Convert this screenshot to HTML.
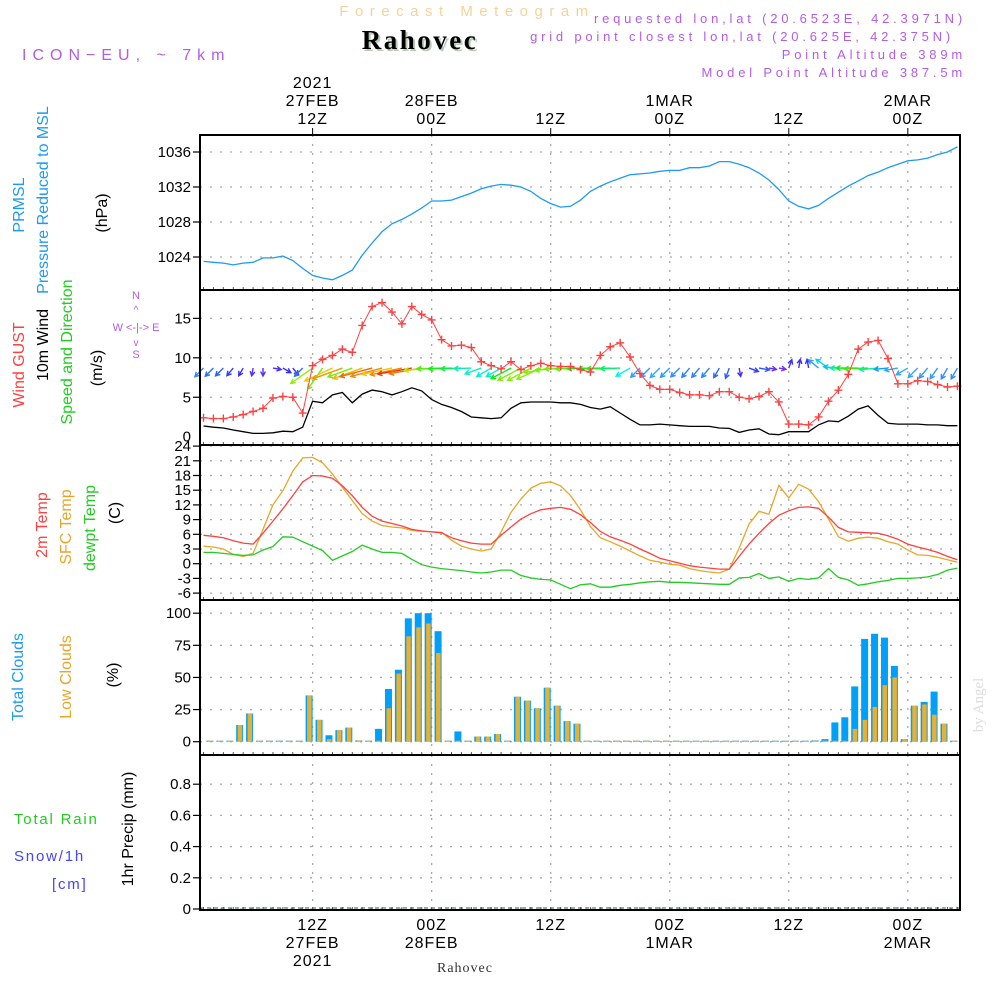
<!DOCTYPE html>
<html><head><meta charset="utf-8"><title>Forecast Meteogram - Rahovec</title>
<style>
html,body{margin:0;padding:0;background:#fff;}
svg{display:block;font-family:"Liberation Sans",sans-serif;}
</style></head>
<body>
<svg id="chart" width="1000" height="1000" viewBox="0 0 1000 1000" xmlns="http://www.w3.org/2000/svg">
<rect x="0" y="0" width="1000" height="1000" fill="#fff"/>
<text x="467" y="16" text-anchor="middle" font-size="15" fill="#f3d39a" letter-spacing="6.5">Forecast Meteogram</text>
<text x="422" y="51" text-anchor="middle" font-family="Liberation Serif, serif" font-weight="bold" font-size="27" fill="#b9cbb9" letter-spacing="2.5">Rahovec</text>
<text x="420" y="49" text-anchor="middle" font-family="Liberation Serif, serif" font-weight="bold" font-size="27" fill="#000" letter-spacing="2.5">Rahovec</text>
<text x="22" y="60" font-size="16" fill="#b35ce8" letter-spacing="6">ICON−EU, ~ 7km</text>
<g font-size="13" fill="#b35ce8" text-anchor="end" letter-spacing="3.8">
<text x="966" y="23">requested lon,lat (20.6523E, 42.3971N)</text>
<text x="954" y="41">grid point closest lon,lat (20.625E, 42.375N)</text>
<text x="966" y="59">Point Altitude 389m</text>
<text x="966" y="77">Model Point Altitude 387.5m</text>
</g>
<g id="labels" font-size="15"></g>
<g id="grid"></g>
<g id="marks"></g>
<g id="frames"></g>
<text transform="translate(983,705) rotate(-90)" text-anchor="middle" font-family="Liberation Serif, serif" font-size="15" fill="#ddd">by Angel</text>
<text x="465" y="972" text-anchor="middle" font-family="Liberation Serif, serif" font-size="14" fill="#333" letter-spacing="1">Rahovec</text>
</svg>
<script>
// ---- Data (hourly, k=0 -> 27FEB 01Z) ----
const pressure = [1023.5,1023.4,1023.3,1023.1,1023.3,1023.4,1023.9,1023.9,1024.1,1023.6,1022.7,1021.9,1021.6,1021.4,1021.9,1022.5,1024.2,1025.6,1026.9,1027.8,1028.3,1028.9,1029.6,1030.4,1030.4,1030.5,1030.9,1031.3,1031.8,1032.1,1032.3,1032.2,1032.0,1031.5,1030.7,1030.1,1029.7,1029.8,1030.5,1031.5,1032.1,1032.6,1033.0,1033.4,1033.5,1033.6,1033.8,1033.9,1033.9,1034.2,1034.2,1034.4,1034.9,1034.9,1034.6,1034.2,1033.6,1032.8,1031.7,1030.4,1029.8,1029.5,1029.9,1030.7,1031.4,1032.1,1032.7,1033.3,1033.7,1034.2,1034.6,1035.0,1035.1,1035.3,1035.7,1036.0,1036.6];
const windGust = [2.4,2.3,2.3,2.5,2.8,3.2,3.6,4.9,5.1,5.0,3.0,9.0,9.8,10.3,11.1,10.7,14.1,16.5,17.0,15.8,14.3,16.5,15.5,14.8,12.3,11.5,11.6,11.3,9.5,9.0,8.6,9.5,8.5,9.0,9.3,9.0,8.9,8.9,8.5,8.2,10.3,11.4,11.9,10.1,8.0,6.5,6.0,6.0,5.6,5.3,5.3,5.2,5.7,5.7,5.0,4.8,5.1,5.7,4.4,1.6,1.6,1.5,2.5,4.5,5.9,7.9,11.1,12.0,12.2,9.9,6.7,6.7,7.1,7.0,6.6,6.3,6.4];
const windSpeed = [1.35,1.2,1.1,0.85,0.63,0.42,0.42,0.5,0.7,0.63,1.2,4.5,4.3,5.3,5.6,4.3,5.4,5.9,5.7,5.3,5.7,6.2,5.8,4.7,4.1,3.7,3.2,2.5,2.4,2.3,2.4,3.6,4.3,4.4,4.4,4.4,4.3,4.3,4.1,3.7,3.5,3.8,3.0,2.2,1.5,1.5,1.6,1.5,1.4,1.3,1.3,1.3,1.1,1.05,0.55,0.85,1.0,0.34,0.25,0.63,0.63,0.63,1.5,2.0,1.9,2.6,3.5,3.9,2.7,1.7,1.6,1.6,1.6,1.5,1.5,1.4,1.4];
const windDir = [45,45,45,40,30,10,0,280,300,320,45,55,35,65,70,70,70,75,75,78,78,80,80,85,88,88,88,88,70,60,60,62,62,62,65,80,85,88,88,88,88,88,88,60,45,45,45,45,45,40,40,40,30,20,350,290,280,280,280,200,190,170,130,125,95,90,90,88,85,85,80,60,45,40,35,30,30];
const temp2m = [5.8,5.6,5.3,4.7,4.2,4.0,6.2,8.7,11.2,13.9,16.7,18.0,17.9,17.4,15.9,13.9,11.5,9.7,8.7,8.2,7.7,7.0,6.7,6.5,6.3,5.3,4.7,4.2,4.0,4.0,5.8,7.5,9.1,10.2,11.0,11.3,11.5,11.1,10.0,8.4,6.6,5.5,4.8,4.0,3.0,2.1,1.1,0.6,0.1,-0.4,-0.7,-0.9,-1.1,-1.1,1.5,4.0,6.2,8.2,9.9,10.8,11.5,11.6,11.3,9.5,7.4,6.5,6.4,6.3,6.2,5.7,5.0,4.0,3.4,2.9,2.3,1.5,0.8];
const tempSfc = [3.6,3.4,3.0,1.9,1.5,2.1,7.0,12.0,14.9,18.9,21.6,21.7,20.6,18.3,15.6,12.9,10.2,8.7,7.8,7.5,7.3,6.8,6.6,6.5,6.4,4.8,3.6,3.0,2.6,3.0,6.5,10.5,13.2,15.4,16.4,16.7,15.9,13.9,11.0,7.6,5.3,4.5,3.6,2.6,1.6,0.7,0.3,-0.1,-0.3,-1.0,-1.4,-1.7,-1.9,-1.1,3.2,8.1,10.7,10.1,16.0,13.4,16.2,15.2,12.7,9.1,5.5,4.6,5.2,5.4,5.2,4.5,4.0,2.8,1.8,1.7,1.3,0.8,0.3];
const dewpt = [2.3,2.3,2.1,1.9,1.7,1.8,2.8,3.5,5.5,5.4,4.5,3.6,2.7,0.7,1.6,2.5,3.8,3.0,2.3,2.3,2.1,0.9,-0.2,-0.7,-1.0,-1.2,-1.4,-1.7,-1.9,-1.7,-1.3,-1.3,-2.4,-2.9,-3.2,-3.3,-4.2,-5.1,-4.3,-4.1,-4.8,-4.8,-4.4,-4.2,-3.9,-3.7,-3.6,-3.8,-3.8,-3.9,-4.0,-4.1,-4.2,-4.2,-2.9,-2.8,-2.0,-3.0,-2.7,-3.6,-3.0,-3.2,-2.9,-1.0,-2.8,-3.3,-4.4,-4.1,-3.7,-3.4,-3.0,-3.0,-2.9,-2.7,-2.2,-1.3,-0.9];
// clouds start at k=1 (27FEB 02Z)
const totalClouds = [0,0,0,13,22,0,0,0,0,0,36,17,5,9,11,1,0,10,41,56,96,100,100,86,0,8,0,4,4,6,0,35,32,26,42,28,16,14,0,0,0,0,0,0,0,0,0,0,0,0,0,0,0,0,0,0,0,0,0,0,0,1,2,15,19,43,80,84,81,59,2,28,31,39,14,0];
const lowClouds = [0,0,0,13,22,0,0,0,0,0,36,17,2,9,11,1,0,0,26,53,82,89,92,69,0,0,0,4,4,6,0,35,32,26,42,28,16,14,0,0,0,0,0,0,0,0,0,0,0,0,0,0,0,0,0,0,0,0,0,0,0,0,0,0,0,10,17,27,44,50,2,28,29,21,14,0];
const precip = new Array(76).fill(0);
const pressTicks = [1024,1028,1032,1036];
const windTicks = [0,5,10,15];
const tempTicks = [-6,-3,0,3,6,9,12,15,18,21,24];
const cloudTicks = [0,25,50,75,100];
const precipTicks = [0,0.2,0.4,0.6,0.8];
const topTimeLabels = [["2021","27FEB","12Z"],["28FEB","00Z"],["12Z"],["1MAR","00Z"],["12Z"],["2MAR","00Z"]];
const bottomTimeLabels = [["12Z","27FEB","2021"],["00Z","28FEB"],["12Z"],["00Z","1MAR"],["12Z"],["00Z","2MAR"]];
const labelHours = [11,23,35,47,59,71];

// ---- Axis functions ----
const NS='http://www.w3.org/2000/svg';
const X0=200,X1=960;
const xH = k => 203.5 + 9.92*k;
const yP = p => 152 + (1036-p)*8.75;
const yW = v => 436.7 - v*7.89;
const yT = t => 563.7 - t*4.9;
const yC = c => 741.7 - c*1.285;
const yR = r => 909 - r*156;
const panels=[[135,290],[290,445],[445,600],[600,755],[755,910]];

function mk(tag,attrs,parent){const e=document.createElementNS(NS,tag);for(const a in attrs)e.setAttribute(a,attrs[a]);parent.appendChild(e);return e;}
const G=document.getElementById('grid'),M=document.getElementById('marks'),F=document.getElementById('frames'),L=document.getElementById('labels');

function hgrid(ticks,yf,name,fmt){
  ticks.forEach(t=>{
    const y=yf(t);
    const l=mk('line',{x1:X0,x2:X1,y1:y,y2:y,stroke:'#aaa','stroke-width':1.3,'stroke-dasharray':'2,8'},G);
    
    
    mk('line',{x1:X0-7,x2:X0,y1:y,y2:y,stroke:'#000','stroke-width':1.2},F);
    const tx=mk('text',{x:X0-9,y:y+5,'text-anchor':'end','font-size':15,fill:'#000'},L);
    tx.textContent=fmt?fmt(t):t;
    
    
  });
}
hgrid(pressTicks,yP,'pressure');
hgrid(windTicks.filter(t=>t>0),yW,'wind');
{const tx=mk('text',{x:X0-9,y:yW(0)+5,'text-anchor':'end','font-size':15,fill:'#000'},L);tx.textContent='0';

}
hgrid(tempTicks,yT,'temp');
hgrid(cloudTicks,yC,'cloud');
hgrid(precipTicks,yR,'precip',t=>t===0?'0':t.toFixed(1));
panels.forEach(([a,b],pi)=>{
  labelHours.forEach(k=>{
    const l=mk('line',{x1:xH(k),x2:xH(k),y1:a,y2:b,stroke:'#aaa','stroke-width':1.3,'stroke-dasharray':'2,7'},G);
    
    
  });
  for(let k=0;k<77;k++){mk('line',{x1:xH(k),x2:xH(k),y1:b-3,y2:b,stroke:'#555','stroke-width':1},F);}
  const r=mk('rect',{x:X0,y:a,width:X1-X0,height:b-a,fill:'none',stroke:'#000','stroke-width':2},F);
  
  
});
labelHours.forEach((k,i)=>{
  mk('line',{x1:xH(k),x2:xH(k),y1:128,y2:135,stroke:'#000'},F);
  const tl=topTimeLabels[i];
  tl.forEach((s,j)=>{const t=mk('text',{x:xH(k),y:127-(tl.length-1-j)*18-3,'text-anchor':'middle','font-size':16,fill:'#000','letter-spacing':1},L);t.textContent=s;
    
    });
  bottomTimeLabels[i].forEach((s,j)=>{const t=mk('text',{x:xH(k),y:930+j*18,'text-anchor':'middle','font-size':16,fill:'#000','letter-spacing':1},L);t.textContent=s;
    
    });
});

function line(data,xf,yf,color,name,w){
  const pts=data.map((v,k)=>xf(k).toFixed(1)+','+yf(v).toFixed(1)).join(' ');
  const p=mk('polyline',{points:pts,fill:'none',stroke:color,'stroke-width':w||1.3},M);
  
  
  return p;
}
line(pressure,xH,yP,'#1e9bf0','pressure-line');
line(windSpeed,xH,yW,'#000','wind-speed-line');
function spdColor(s){const h=Math.max(0,270-s/6.5*270);return 'hsl('+h+',95%,'+(h>200?'58%':'48%')+')';}
windDir.forEach((d,k)=>{
  const s=windSpeed[k],len=6+4.6*s,rad=(d+180)*Math.PI/180;
  const x0=xH(k),y0=yW(8.7);
  const dx=Math.sin(rad)*len,dy=-Math.cos(rad)*len;
  const x1=x0+dx,y1=y0+dy,ang=Math.atan2(dy,dx),hl=5;
  const c=spdColor(s);
  const g=mk('path',{d:`M${x0},${y0}L${x1},${y1}M${x1-hl*Math.cos(ang-0.5)},${y1-hl*Math.sin(ang-0.5)}L${x1},${y1}L${x1-hl*Math.cos(ang+0.5)},${y1-hl*Math.sin(ang+0.5)}`,stroke:c,'stroke-width':1.4,fill:'none'},M);
  
  
});
line(windGust,xH,yW,'#ff4040','wind-gust-line',1);
windGust.forEach((v,k)=>{
  const x=xH(k),y=yW(v);
  const p=mk('path',{d:`M${x-4},${y}H${x+4}M${x},${y-4}V${y+4}`,stroke:'#ff4040','stroke-width':1.4},M);
  
  
});
line(tempSfc,xH,yT,'#e8a628','sfc-temp-line');
line(temp2m,xH,yT,'#ff4040','2m-temp-line');
line(dewpt,xH,yT,'#22cc22','dewpt-temp-line');
const xCl=i=>xH(i+1)-3.5;
totalClouds.forEach((v,i)=>{
  const x=xCl(i),h=Math.max(1,v*1.285);
  const b=mk('rect',{x:x-3.5,y:yC(0)-h,width:7,height:h,fill:'#00a0f8'},M);
  
  
  const lv=lowClouds[i],lh=Math.max(1,lv*1.285);
  const o=mk('rect',{x:x-2,y:yC(0)-lh,width:4.5,height:lh,fill:'#e8b030'},M);
  
  
});
precip.forEach((v,i)=>{
  if(v>0){const b=mk('rect',{x:xCl(i)-3,y:yR(v),width:6,height:v*156,fill:'#22cc22'},M);
  
  }
});
{const p=mk('line',{x1:X0,x2:X1,y1:yR(0)-1,y2:yR(0)-1,stroke:'#264','stroke-width':1,'stroke-dasharray':'4,3'},M);

}

function vt(txt,x,y,color,name,fs){
  const t=mk('text',{transform:`translate(${x},${y}) rotate(-90)`,'text-anchor':'middle','font-size':fs||16,fill:color},L);
  t.textContent=txt;
  
  
}
vt('PRMSL',24,205,'#1e9bf0','pressure-title-1');
vt('Pressure Reduced to MSL',48,200,'#1e9bf0','pressure-title-2');
vt('(hPa)',107,213,'#000','pressure-unit');
vt('Wind GUST',24,365,'#ff4040','gust-title');
vt('10m Wind',48,345,'#000','wind-title');
vt('Speed and Direction',72,352,'#22cc22','wind-dir-title');
vt('(m/s)',102,368,'#000','wind-unit');
vt('2m Temp',47,525,'#ff4040','temp-2m-title');
vt('SFC Temp',71,527,'#e8a628','temp-sfc-title');
vt('dewpt Temp',95,528,'#22cc22','dewpt-title');
vt('(C)',120,513,'#000','temp-unit');
vt('Total Clouds',23,677,'#1e9bf0','total-cloud-title');
vt('Low Clouds',71,677,'#e8a628','low-cloud-title');
vt('(%)',118,675,'#000','cloud-unit');
vt('1hr Precip (mm)',133,829,'#000','precip-unit');
[['Total   Rain',14,824,'#22cc22','precip-legend-rain'],['Snow/1h',14,861,'#4444ff','precip-legend-snow'],['[cm]',52,889,'#4444ff','precip-legend-cm']].forEach(a=>{
  const t=mk('text',{x:a[1],y:a[2],'font-size':15,fill:a[3],'letter-spacing':1.8,'xml:space':'preserve'},L);
  t.textContent=a[0];
  
  
});
[['N',136,299],['W  <-|->  E',136,331],['S',136,358]].forEach(a=>{const e=mk('text',{x:a[1],y:a[2],'text-anchor':'middle','font-size':11,fill:'#b35ce8','xml:space':'preserve'},L);e.textContent=a[0];

});
mk('text',{x:136,y:313,'text-anchor':'middle','font-size':10,fill:'#b35ce8'},L).textContent='^';
mk('text',{x:136,y:346,'text-anchor':'middle','font-size':10,fill:'#b35ce8'},L).textContent='v';
</script>
</body></html>
